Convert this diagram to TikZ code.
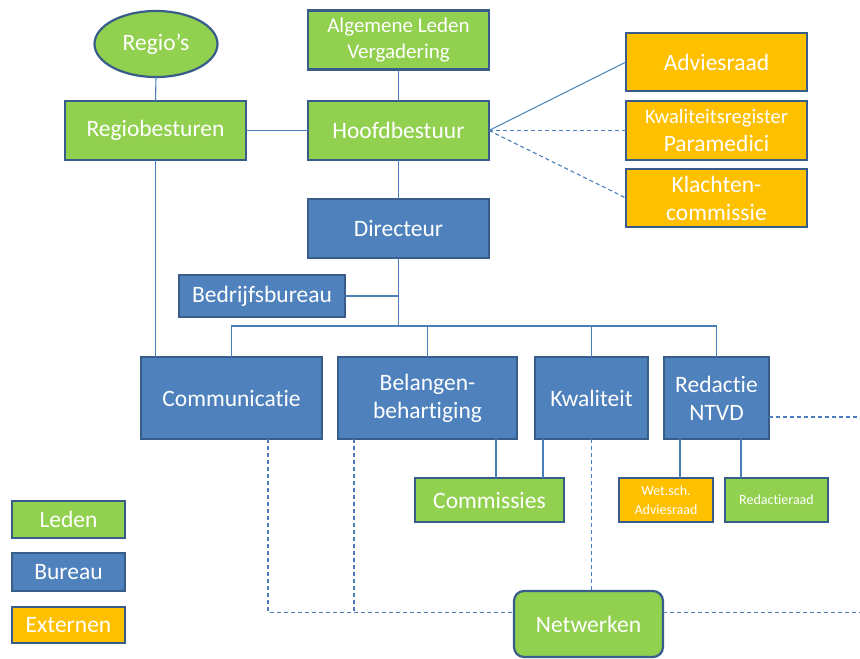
\documentclass[tikz,border=0pt]{standalone}
\usepackage{fontspec}
\setmainfont{Carlito}[Ligatures=NoCommon]
\usetikzlibrary{shapes.geometric,calc}
\definecolor{cgreen}{HTML}{92D050}
\definecolor{cblue}{HTML}{4F81BD}
\definecolor{corange}{HTML}{FFC000}
\definecolor{cborder}{HTML}{385D8A}
\definecolor{cline}{HTML}{4A7EBB}
\begin{document}
\begin{tikzpicture}[x=1pt,y=-1pt,
 unit/.style={draw=cborder, line width=2.2pt, text=white, inner sep=0pt, outer sep=0pt, align=center, font=\fontsize{23.5}{28}\selectfont},
 leden/.style={unit, fill=cgreen},
 bureau/.style={unit, fill=cblue},
 extern/.style={unit, fill=corange},
 bx/.style 2 args={minimum width=#1pt, minimum height=#2pt},
 conn/.style={draw=cline, line width=1.1pt},
 dconn/.style={conn, dash pattern=on 4pt off 3pt}]
\useasboundingbox (0,0) rectangle (860,659);
% top
\node[leden, ellipse, minimum width=123pt, minimum height=66pt] (regio) at (156,44) {Regio’s};
\node[leden, bx={181}{59}, font=\fontsize{21}{25.5}\selectfont] (alv) at (398.5,40) {Algemene Leden\\Vergadering};
\node[leden, bx={181}{59}] (regiob) at (155.5,130.5) {Regiobesturen};
\node[leden, bx={181}{59}] (hb) at (398.5,130.5) {Hoofdbestuur};
\node[bureau, bx={181}{59}] (dir) at (398.5,228.5) {Directeur};
\node[bureau, bx={166}{42}] (bb) at (262,296) {Bedrijfsbureau};
% externals
\node[extern, bx={181}{58}] (adv) at (716.5,62) {Adviesraad};
\node[extern, bx={181}{59}] (kr) at (716.5,130.5) {{\fontsize{20.5}{28}\selectfont Kwaliteitsregister}\\Paramedici};
\node[extern, bx={181}{58}] (kl) at (716.5,198) {Klachten-\\commissie};
% departments
\node[bureau, bx={181}{82}] (comm) at (231.5,398) {Communicatie};
\node[bureau, bx={179}{82}] (bel) at (427.5,398) {Belangen-\\behartiging};
\node[bureau, bx={113}{82}] (kw) at (591.5,398) {Kwaliteit};
\node[bureau, bx={105}{82}] (red) at (716.5,398) {Redactie\\NTVD};
% lower
\node[leden, bx={149}{44}] (cm) at (489.5,500) {Commissies};
\node[extern, bx={94}{44}, font=\fontsize{14}{19}\selectfont] (ws) at (666,500) {Wet.sch.\\Adviesraad};
\node[leden, bx={103}{44}, font=\fontsize{14}{19}\selectfont] (rr) at (776.5,500) {Redactieraad};
\node[leden, bx={149}{66}, rounded corners=10pt] (net) at (588.5,624) {Netwerken};
% legend
\node[leden, bx={113}{37}] (lg1) at (68.5,519.5) {Leden};
\node[bureau, bx={113}{38}] (lg2) at (68.5,572) {Bureau};
\node[extern, bx={113}{36}] (lg3) at (68.5,625) {Externen};
% helper coordinates
\coordinate (bus) at (398.5,326);
\coordinate (edge) at (860,0);
\coordinate (b1) at ([xshift=-21pt]bel.south east);
\coordinate (b2) at ([xshift=16pt]bel.south west);
\coordinate (k1) at ([xshift=8pt]kw.south west);
\coordinate (r1) at ([xshift=16pt]red.south west);
\coordinate (r2) at ([xshift=77pt]red.south west);
\coordinate (re) at ([yshift=-19pt]red.east);
\coordinate (c1) at ([xshift=-54pt]comm.south east);
\coordinate (nw) at ([yshift=11.5pt]net.west);
\coordinate (ne) at ([yshift=11.5pt]net.east);
% solid connectors
\draw[conn] (regio.south) -- (regiob.north);
\draw[conn] (alv.south) -- (hb.north);
\draw[conn] (regiob.east) -- (hb.west);
\draw[conn] (hb.south) -- (dir.north);
\draw[conn] (dir.south) -- (bus);
\draw[conn] (bb.east) -- (bb.east -| bus);
\draw[conn] (comm.north) |- (bus) -| (red.north);
\draw[conn] (bel.north) -- (bel.north |- bus);
\draw[conn] (kw.north) -- (kw.north |- bus);
\draw[conn] (regiob.south) -- (regiob.south |- comm.north);
\draw[conn] (b1) -- (b1 |- cm.north);
\draw[conn] (k1) -- (k1 |- cm.north);
\draw[conn] (r1) -- (r1 |- ws.north);
\draw[conn] (r2) -- (r2 |- rr.north);
\draw[conn] (hb.east) -- (adv.west);
% dashed connectors
\draw[dconn] (hb.east) -- (kr.west);
\draw[dconn] (hb.east) -- (kl.west);
\draw[dconn] (re) -- (re -| edge);
\draw[dconn] (c1) |- (nw);
\draw[dconn] (b2) -- (b2 |- nw);
\draw[dconn] (kw.south) -- (kw.south |- net.north);
\draw[dconn] (ne) -- (ne -| edge);
\end{tikzpicture}
\end{document}
